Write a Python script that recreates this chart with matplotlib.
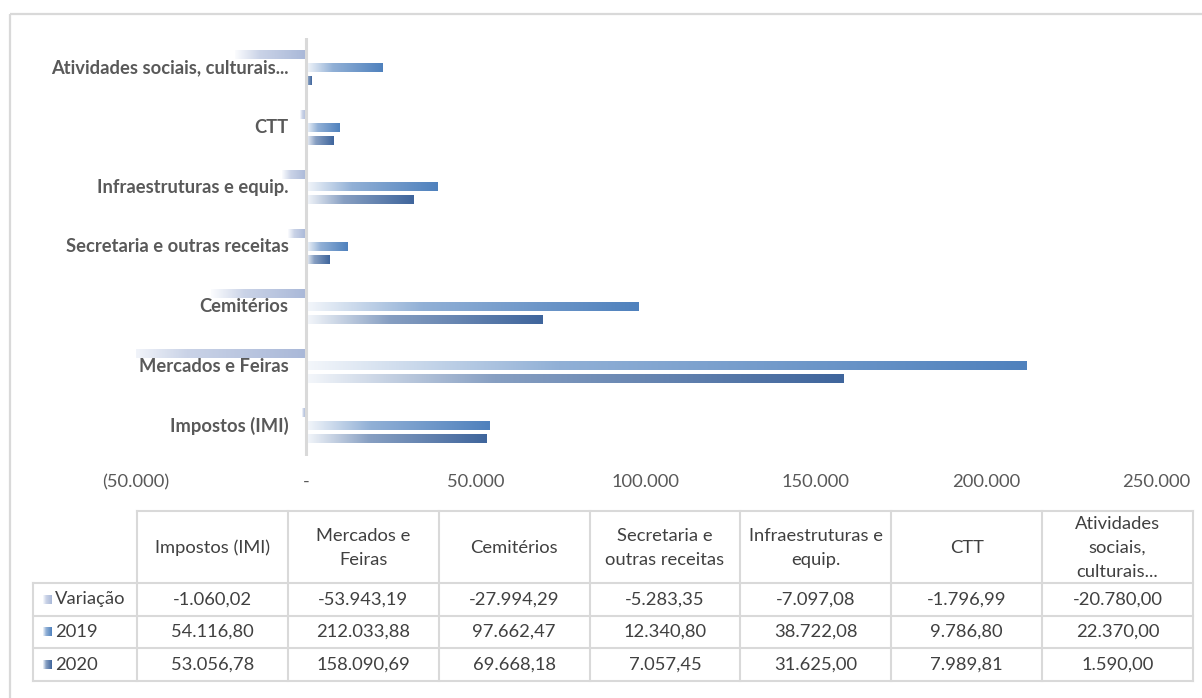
import numpy as np
import matplotlib
matplotlib.use("Agg")
import matplotlib.pyplot as plt
from matplotlib.colors import LinearSegmentedColormap, to_rgb, to_hex
from matplotlib.patches import Rectangle
from matplotlib.ticker import FuncFormatter

plt.rcParams['font.family'] = ['Lato', 'DejaVu Sans']

# ---------------- data ----------------
categories = ["Impostos (IMI)", "Mercados e Feiras", "Cemitérios",
              "Secretaria e outras receitas", "Infraestruturas e equip.",
              "CTT", "Atividades sociais, culturais..."]
table_headers = ["Impostos (IMI)", "Mercados e\nFeiras", "Cemitérios",
                 "Secretaria e\noutras receitas", "Infraestruturas e\nequip.",
                 "CTT", "Atividades\nsociais,\nculturais..."]
series_names = ["Variação", "2019", "2020"]
variacao = [-1060.02, -53943.19, -27994.29, -5283.35, -7097.08, -1796.99, -20780.00]
v2019 = [54116.80, 212033.88, 97662.47, 12340.80, 38722.08, 9786.80, 22370.00]
v2020 = [53056.78, 158090.69, 69668.18, 7057.45, 31625.00, 7989.81, 1590.00]
xticks = [-50000, 0, 50000, 100000, 150000, 200000, 250000]

series = [variacao, v2019, v2020]
end_colors = ["#a9b8d8", "#4f81bd", "#3f659c"]
start_colors = ["#fbfcfe", "#f4f7fb", "#f4f7fb"]

def mix(a, b, t):
    return to_hex((1 - t) * np.array(to_rgb(a)) + t * np.array(to_rgb(b)))

cmaps = [LinearSegmentedColormap.from_list(f"h{i}",
         [(0.0, start_colors[i]),
          (0.35, mix(start_colors[i], end_colors[i], 0.6)),
          (1.0, end_colors[i])], N=256) for i in range(3)]

W, H = 1202, 698
fig = plt.figure(figsize=(W/100, H/100), dpi=100)

# overlay axes in pixel coordinates (for border and table)
tax = fig.add_axes([0, 0, 1, 1])
tax.set_xlim(0, W)
tax.set_ylim(H, 0)
tax.axis("off")
tax.add_patch(Rectangle((10, 14), W + 20, H + 20, fill=False,
                        edgecolor="#d9d9d9", lw=1.6))

FS = 13.2

# ---------------- chart ----------------
ax_top, ax_bot = 38.2, 455.8
ax_left, ax_right = 136, 1156
ax = fig.add_axes([ax_left/W, 1 - ax_bot/H, (ax_right-ax_left)/W, (ax_bot-ax_top)/H])
ax.set_xlim(xticks[0], xticks[-1])
ax.set_ylim(-0.5, len(categories) - 0.5)
for s in ax.spines.values():
    s.set_visible(False)

offsets = [0.215, 0.0, -0.215]
bar_h = 0.135
grad = np.linspace(0, 1, 256).reshape(1, -1)
for si, vals in enumerate(series):
    for ci, v in enumerate(vals):
        y = ci + offsets[si]
        left, right = (0, v) if v >= 0 else (v, 0)
        ax.imshow(grad, extent=(left, right, y - bar_h/2, y + bar_h/2),
                  aspect="auto", cmap=cmaps[si], interpolation="bilinear", zorder=2)
ax.set_xlim(xticks[0], xticks[-1])
ax.set_ylim(-0.5, len(categories) - 0.5)
ax.axvline(0, color="#d9d9d9", lw=2.2, zorder=3)

def fmt_axis(v, pos):
    if v == 0:
        return "-"
    s = f"{abs(v):,.0f}".replace(",", ".")
    return f"({s})" if v < 0 else s

ax.set_xticks(xticks)
ax.xaxis.set_major_formatter(FuncFormatter(fmt_axis))
ax.tick_params(axis="x", length=0, pad=13, labelsize=FS, labelcolor="#595959")
ax.set_yticks([])

for ci, cat in enumerate(categories):
    ax.annotate(cat, xy=(0, ci), xytext=(-12.5, 0), textcoords="offset points",
                ha="right", va="center", fontsize=FS, fontweight="bold",
                color="#595959")

# ---------------- table ----------------
def fmt_pt(v):
    s = f"{v:,.2f}"
    return s.replace(",", "X").replace(".", ",").replace("X", ".")

gc = "#d9d9d9"
tc = "#404040"
col0_l, col0_r, tab_r = 33, 137, 1193
col_w = (tab_r - col0_r) / len(categories)
rows_y = [511, 583, 615.5, 648, 681]

tax.plot([col0_r, tab_r], [rows_y[0]] * 2, color=gc, lw=1.5)
for yy in rows_y[1:]:
    tax.plot([col0_l, tab_r], [yy] * 2, color=gc, lw=1.5)
tax.plot([col0_l, col0_l], [rows_y[1], rows_y[-1]], color=gc, lw=1.5)
for k in range(len(categories) + 1):
    xx = col0_r + k * col_w
    tax.plot([xx, xx], [rows_y[0], rows_y[-1]], color=gc, lw=1.5)

for k, hdr in enumerate(table_headers):
    cx = col0_r + (k + 0.5) * col_w
    tax.text(cx, (rows_y[0] + rows_y[1]) / 2 + 1, hdr, ha="center", va="center",
             fontsize=FS, color=tc, linespacing=1.6)

for ri, (name, vals) in enumerate(zip(series_names, series)):
    cy = (rows_y[ri + 1] + rows_y[ri + 2]) / 2
    tax.imshow(grad, extent=(43, 52, cy + 4.5, cy - 4.5), aspect="auto",
               cmap=cmaps[ri], interpolation="bilinear", zorder=2)
    tax.text(55, cy, name, ha="left", va="center", fontsize=FS, color=tc)
    for k, v in enumerate(vals):
        cx = col0_r + (k + 0.5) * col_w
        tax.text(cx, cy, fmt_pt(v), ha="center", va="center", fontsize=FS, color=tc)
tax.set_xlim(0, W)
tax.set_ylim(H, 0)

fig.savefig("out.png", dpi=100)
